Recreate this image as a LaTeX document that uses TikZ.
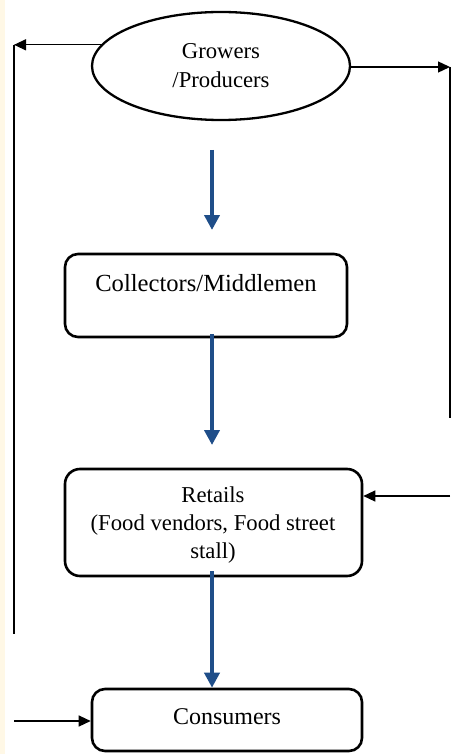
\documentclass[tikz,border=0pt]{standalone}
\usepackage{fontspec}
\setmainfont{Liberation Serif}
\usetikzlibrary{shapes.geometric,arrows.meta}
\definecolor{flowblue}{HTML}{1F4E89}
\definecolor{stripyellow}{HTML}{FFF8E6}
\tikzset{
  roundbox/.style={draw=black, line width=2.6pt, rounded corners=13pt, fill=white},
  ovalbox/.style={draw=black, ellipse, line width=2.3pt, inner sep=0pt},
  lbl/.style={font=\fontsize{24}{29}\selectfont, align=center, inner sep=0pt},
  lblsmall/.style={font=\fontsize{22.7}{28}\selectfont, align=center, inner sep=0pt},
  thinline/.style={draw=black, line width=1.3pt},
  thinarrow/.style={thinline, -{Triangle[length=12pt,width=11pt]}},
  bluearrow/.style={draw=flowblue, line width=4pt, -{Triangle[length=15pt,width=15pt]}},
}
\begin{document}
\begin{tikzpicture}[x=1pt,y=-1pt]
\useasboundingbox (0,0) rectangle (464,754);
\fill[white] (0,0) rectangle (464,754);
\fill[stripyellow] (0,0) rectangle (5,754);

% nodes
\node[ovalbox, minimum width=258pt, minimum height=108pt] (gp) at (221,66) {};
\node[lbl, font=\fontsize{22.7}{29}\selectfont] (gpt) at (221,66) {Growers\\/Producers};

\node[roundbox, minimum width=282pt, minimum height=83pt] (col) at (206,295.5) {};
\node[lbl, font=\fontsize{24.6}{29}\selectfont] (colt) at (206,283) {Collectors/Middlemen};

\node[roundbox, rounded corners=15pt, minimum width=297pt, minimum height=107pt] (ret) at (213.5,522.5) {};
\node[lblsmall] (rett) at (213,525) {Retails\\(Food vendors, Food street\\stall)};

\node[roundbox, minimum width=270pt, minimum height=62pt] (con) at (227,720) {};
\node[lbl] (cont) at (227,717) {Consumers};

% coordinates for free ends
\coordinate (lx) at (14,0);
\coordinate (lb) at (14,634);
\coordinate (rt) at (450,67);
\coordinate (rb) at (450,418);
\coordinate (rr) at (450,496);
\coordinate (ll) at (14,721);
\coordinate (a1s) at (212,150);
\coordinate (a1e) at (212,230);
\coordinate (a2e) at (212,445);
\coordinate (lt) at (gp.170.5 -| lx);

% black connectors
\draw[thinarrow] (gp.170.5) -- (lt);
\draw[thinline] (lt) -- (lb);
\draw[thinarrow] (gp.east |- rt) -- (rt);
\draw[thinline] (rt) -- (rb);
\draw[thinarrow] (rr) -- (rr -| ret.east);
\draw[thinarrow] (ll) -- (ll -| con.west);

% blue flow arrows
\draw[bluearrow] (a1s) -- (a1e);
\draw[bluearrow] ([yshift=4pt]col.south -| a1s) -- (a2e);
\draw[bluearrow] ([yshift=6pt]ret.south -| a1s) -- (con.north -| a1s);
\end{tikzpicture}
\end{document}
